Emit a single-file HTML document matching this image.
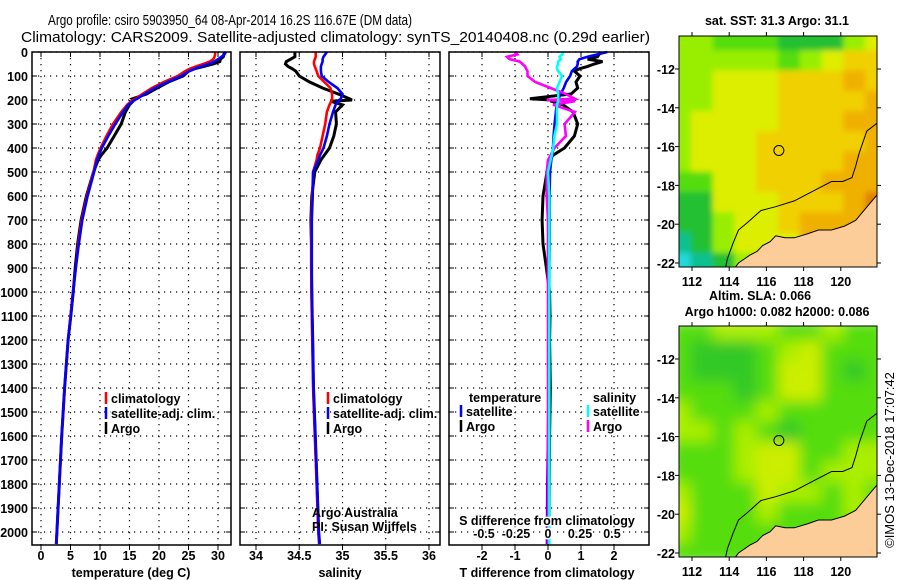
<!DOCTYPE html>
<html><head><meta charset="utf-8"><style>
html,body{margin:0;padding:0;background:#fff;}
svg{display:block;font-family:"Liberation Sans",sans-serif;}
.t{font-size:15px;}
.tk{font-weight:bold;font-size:12.5px;}
</style></head><body>
<svg id="fig" width="900" height="580" viewBox="0 0 900 580" xmlns="http://www.w3.org/2000/svg">
<text class="t" x="48" y="25" textLength="364" lengthAdjust="spacingAndGlyphs">Argo profile: csiro 5903950_64 08-Apr-2014 16.2S 116.67E (DM data)</text>
<text class="t" x="21" y="42" textLength="629" lengthAdjust="spacingAndGlyphs">Climatology: CARS2009. Satellite-adjusted climatology: synTS_20140408.nc (0.29d earlier)</text>
<g id="p1"></g>
<g id="p2"></g>
<g id="p3"></g>
<g id="m1"></g>
<g id="m2"></g>
<text class="tk" x="777" y="25" text-anchor="middle">sat. SST: 31.3 Argo: 31.1</text>
<text class="tk" x="760" y="300" text-anchor="middle">Altim. SLA: 0.066</text>
<text class="tk" x="777" y="316" text-anchor="middle">Argo h1000: 0.082 h2000: 0.086</text>
<text font-size="13" x="0" y="0" text-anchor="middle" transform="translate(894,460) rotate(-90)">©IMOS 13-Dec-2018 17:07:42</text>
</svg>
<script>
const depths=[0,10,20,30,40,50,60,70,80,100,125,150,175,195,200,205,220,250,300,350,400,430,450,500,600,700,800,900,1000,1100,1200,1400,1600,1800,2000,2050];
const tClim=[29.5,29.5,29.4,29.2,28.6,27.5,26.3,25.2,24.4,23.2,20.8,18.8,17.2,16.0,15.6,15.3,14.6,13.6,12.2,11.1,10.1,9.6,9.3,8.9,7.8,6.9,6.3,5.9,5.4,5.0,4.6,4.0,3.5,3.1,2.7,2.6];
const tSat=[31.3,31.1,30.6,30.0,29.4,28.4,27.2,26.0,25.1,23.8,21.4,19.3,17.6,16.3,15.9,15.6,14.8,13.9,12.6,11.4,10.3,9.8,9.5,9.0,7.9,7.0,6.4,5.9,5.45,5.05,4.6,4.0,3.5,3.1,2.7,2.6];
const tArgo=[31.1,31.0,30.9,30.4,30.3,29.2,27.6,26.0,25.0,24.1,21.6,19.7,17.9,15.5,15.8,15.6,15.0,14.3,13.6,12.4,11.2,10.2,9.7,8.9,7.7,6.8,6.2,5.8,5.45,5.05,4.6,4.0,3.5,3.1,2.7,2.6];
const sClim=[34.69,34.69,34.69,34.68,34.67,34.67,34.68,34.69,34.70,34.72,34.79,34.86,34.88,34.88,34.88,34.87,34.85,34.82,34.80,34.77,34.74,34.71,34.70,34.66,34.65,34.64,34.64,34.64,34.64,34.645,34.65,34.66,34.68,34.70,34.72,34.73];
const sSat=[34.82,34.80,34.78,34.77,34.77,34.76,34.75,34.75,34.75,34.76,34.84,34.94,35.0,34.98,34.96,34.95,34.92,34.89,34.85,34.82,34.78,34.74,34.72,34.66,34.655,34.645,34.645,34.645,34.645,34.65,34.655,34.665,34.685,34.705,34.725,34.735];
const sArgo=[34.45,34.45,34.45,34.40,34.35,34.34,34.37,34.42,34.46,34.50,34.62,34.77,34.95,35.08,35.11,34.86,35.0,34.92,34.93,34.9,34.85,34.79,34.75,34.68,34.645,34.635,34.64,34.64,34.645,34.65,34.655,34.665,34.685,34.705,34.725,34.735];
const dTSat=[1.8,1.5,1.2,0.95,0.9,0.9,0.88,0.8,0.72,0.67,0.55,0.48,0.38,0.32,0.3,0.28,0.26,0.24,0.2,0.17,0.15,0.13,0.1,0.06,0.05,0.05,0.05,0.04,0.04,0.03,0.03,0.02,0.0,-0.02,-0.03,-0.03];
const dTArgo=[1.6,1.55,1.5,1.2,1.65,1.4,1.2,0.95,0.8,0.97,0.85,0.9,0.7,-0.55,0.1,0.1,0.45,0.76,0.9,0.8,0.5,0.15,0.05,-0.03,-0.15,-0.18,-0.15,-0.05,0.05,0.06,0.05,0.07,0.05,0.04,0.03,0.03];
const dSSat=[0.12,0.11,0.09,0.1,0.08,0.08,0.07,0.07,0.08,0.11,0.09,0.07,0.08,0.08,0.08,0.08,0.07,0.07,0.07,0.05,0.04,0.03,0.02,0.0,0.01,0.01,0.01,0.01,0.01,0.01,0.01,0.01,0.01,0.01,0.01,0.01];
const dSArgo=[-0.26,-0.24,-0.32,-0.3,-0.22,-0.2,-0.18,-0.17,-0.16,-0.16,-0.1,0.02,0.14,0.21,-0.01,0.21,0.04,0.21,0.13,0.14,0.05,0.02,0.0,-0.01,-0.01,0,0,0,0,0,0,0,0,0,0,0];
const depthTicks=[0,100,200,300,400,500,600,700,800,900,1000,1100,1200,1300,1400,1500,1600,1700,1800,1900,2000];
const tTicks=[0,5,10,15,20,25,30];
const sTicks=[34,34.5,35,35.5,36];
const sTickLabels=["34","34.5","35","35.5","36"];
const dTTicks=[-2,-1,0,1,2];
const dSTicks=[-0.5,-0.25,0,0.25,0.5];
const dSTickLabels=["-0.5","-0.25","0","0.25","0.5"];
const lonTicks=[112,114,116,118,120];
const latTicks=[-12,-14,-16,-18,-20,-22];
const floatLon=116.67, floatLat=-16.2;
const coastLon=[121.94,121.5,120.8,120.2,119.5,118.8,118.2,117.5,117.0,116.5,116.2,115.8,115.5,115.1,114.8,114.5,114.3];
const coastLat=[-18.5,-19.0,-19.8,-20.1,-20.3,-20.3,-20.5,-20.7,-20.7,-20.6,-20.9,-21.1,-21.4,-21.6,-21.8,-22.0,-22.25];
const isoLon=[121.94,121.4,121.0,120.8,120.6,120.1,119.5,118.5,117.5,116.5,115.7,115.0,114.5,114.2,113.9,113.8];
const isoLat=[-14.8,-15.2,-16.3,-17.0,-17.6,-17.8,-17.8,-18.3,-18.8,-19.1,-19.3,-19.9,-20.3,-21.0,-21.8,-22.25];
const sstGrid=["llgggGGGly","lllllglyoo","llyyyoooOo","llyyyooooO","lyyyyoooOO","lyyyoooooO","lyyyooooOO","ggyyoooOOO","GGyyyoooOR","GGlyyoOOOR","cGlyyyOOOO","CcGlyyyOOO"];
const slaGrid=["gglllgglgg","gGGGglyggg","gGGGgyygGg","gggGgyyggg","lggglggggg","llglgGgggg","ggglyyggll","ggglyyglll","lgggyllglg","yggglgggll","lggggggggl","ggggglgggg"];
const NS="http://www.w3.org/2000/svg";
function mk(tag,attrs,parent){const e=document.createElementNS(NS,tag);for(const k in attrs)e.setAttribute(k,attrs[k]);parent.appendChild(e);return e;}
const yD=d=>52+d*0.24;
const Y0=52,Y1=545;
function panel(g,x0,x1,xs,ticks,labels,showY){
  mk('rect',{x:x0,y:Y0,width:x1-x0,height:Y1-Y0,fill:'#fff',stroke:'none'},g);
  depthTicks.forEach(d=>{
    const l=mk('line',{x1:x0,x2:x1,y1:yD(d),y2:yD(d),stroke:'#000','stroke-width':1.2,'stroke-dasharray':'1.2,4.8'},g);
    
    
    mk('line',{x1:x0,x2:x0+5,y1:yD(d),y2:yD(d),stroke:'#000'},g);
    mk('line',{x1:x1-5,x2:x1,y1:yD(d),y2:yD(d),stroke:'#000'},g);
    if(showY){const t=mk('text',{x:x0-4,y:yD(d)+5,'text-anchor':'end',class:'tk'},g);t.textContent=d;
      
      }
  });
  ticks.forEach((v,i)=>{
    const l=mk('line',{x1:xs(v),x2:xs(v),y1:Y0,y2:Y1,stroke:'#000','stroke-width':1.2,'stroke-dasharray':'1.2,4.8'},g);
    
    
    mk('line',{x1:xs(v),x2:xs(v),y1:Y1,y2:Y1+5,stroke:'#000'},g);
    mk('line',{x1:xs(v),x2:xs(v),y1:Y0,y2:Y0+5,stroke:'#000'},g);
    if(labels){const t=mk('text',{x:xs(v),y:560,'text-anchor':'middle',class:'tk'},g);t.textContent=labels[i];
      
      }
  });
}
function frame(g,x0,x1){const r=mk('rect',{x:x0,y:Y0,width:x1-x0,height:Y1-Y0,fill:'none',stroke:'#000','stroke-width':1.5},g);
  
  }
function line(g,vals,xs,color,name,w){
  const pts=vals.map((v,i)=>xs(v).toFixed(1)+','+yD(depths[i]).toFixed(1)).join(' ');
  const p=mk('polyline',{points:pts,fill:'none',stroke:color,'stroke-width':w||2.6,'stroke-linejoin':'miter'},g);
  
  
}
function txt(g,x,y,s,cls,anchor,name){const t=mk('text',{x:x,y:y,class:cls||'tk','text-anchor':anchor||'start'},g);t.textContent=s;
  
  return t;}
function legend(g,x,y,items){items.forEach((it,i)=>{
  const l=mk('line',{x1:x,x2:x,y1:y+i*15-11,y2:y+i*15+1,stroke:it[1],'stroke-width':2.5},g);
  
  
  const t=txt(g,x+5,y+i*15,it[0],'tk','start','legend-entry');
  t.setAttribute('style','paint-order:stroke;stroke:#fff;stroke-width:3px');
});}
const p1=document.getElementById('p1');
const xT=v=>41+v*5.9;
panel(p1,32,231,xT,tTicks,tTicks.map(String),true);
line(p1,tArgo,xT,'#000','argo-temperature-line',3);
line(p1,tClim,xT,'#f00','climatology-temperature-line');
line(p1,tSat,xT,'#00f','satellite-temperature-line');
frame(p1,32,231);
legend(p1,106,403,[['climatology','#f00'],['satellite-adj. clim.','#00f'],['Argo','#000']]);
txt(p1,131,577,'temperature (deg C)','tk','middle','x-axis-title');
const p2=document.getElementById('p2');
const xS=v=>256+(v-34)*86.5;
panel(p2,240,440,xS,sTicks,sTickLabels,false);
line(p2,sArgo,xS,'#000','argo-salinity-line',3);
line(p2,sClim,xS,'#f00','climatology-salinity-line');
line(p2,sSat,xS,'#00f','satellite-salinity-line');
frame(p2,240,440);
legend(p2,328,403,[['climatology','#f00'],['satellite-adj. clim.','#00f'],['Argo','#000']]);
let c1=txt(p2,312,517,'Argo Australia','','start','credit-argo-australia');c1.setAttribute('font-size','12');
let c2=txt(p2,312,531,'PI: Susan Wijffels','','start','credit-pi');c2.setAttribute('font-size','12');
txt(p2,340,577,'salinity','tk','middle','x-axis-title');
const p3=document.getElementById('p3');
const xDT=v=>548+v*33;
const xDS=v=>548+v*128;
panel(p3,449,649,xDT,dTTicks,dTTicks.map(String),false);
line(p3,dTArgo,xDT,'#000','argo-temperature-diff-line',3);
line(p3,dTSat,xDT,'#00f','satellite-temperature-diff-line');
line(p3,dSArgo,xDS,'#f0f','argo-salinity-diff-line');
line(p3,dSSat,xDS,'#0ff','satellite-salinity-diff-line');
frame(p3,449,649);
let lt=txt(p3,469,402,'temperature','tk','start','legend-title-temperature');lt.setAttribute('style','paint-order:stroke;stroke:#fff;stroke-width:3px');
let ls=txt(p3,593,402,'salinity','tk','start','legend-title-salinity');ls.setAttribute('style','paint-order:stroke;stroke:#fff;stroke-width:3px');
legend(p3,461,416,[['satellite','#00f'],['Argo','#000']]);
legend(p3,588,416,[['satellite','#0ff'],['Argo','#f0f']]);
let st=txt(p3,547,525,'S difference from climatology','tk','middle','s-axis-title');st.setAttribute('style','paint-order:stroke;stroke:#fff;stroke-width:3px');
dSTicks.forEach((v,i)=>{const t=txt(p3,xDS(v),538,dSTickLabels[i],'tk','middle','s-tick-label');t.setAttribute('style','paint-order:stroke;stroke:#fff;stroke-width:3px');});
txt(p3,547,577,'T difference from climatology','tk','middle','x-axis-title');
const pal={l:'#99ee00',g:'#55dd10',G:'#22c030',y:'#ddee00',o:'#f0d000',O:'#f0b000',R:'#e08000',c:'#10c090',C:'#20d8d8'};
const palS={l:'#aaee00',g:'#55dd10',G:'#33c828',y:'#ccee00'};
function map(id,top,grid,pl,blur){
  const g=document.getElementById(id);
  const X0=679,X1=877,Yt=top,Yb=top+231;
  const mx=lon=>692+(lon-112)*18.6, my=lat=>Yt+33+(-12-lat)*19.4;
  const defs=mk('defs',{},g);
  const cp=mk('clipPath',{id:id+'c'},defs);mk('rect',{x:X0,y:Yt,width:X1-X0,height:Yb-Yt},cp);
  const f=mk('filter',{id:id+'f',x:'-10%',y:'-10%',width:'120%',height:'120%'},defs);mk('feGaussianBlur',{stdDeviation:blur},f);
  const inner=mk('g',{'clip-path':'url(#'+id+'c)'},g);
  const cg=mk('g',{filter:'url(#'+id+'f)'},inner);
  grid.forEach((row,r)=>{[...row].forEach((k,c)=>{
    const cell=mk('rect',{x:X0-10+c*((X1-X0+20)/10),y:Yt-6+r*((Yb-Yt+12)/12),width:(X1-X0+20)/10+1,height:(Yb-Yt+12)/12+1,fill:pl[k]},cg);
    
    
  });});
  const land=coastLon.map((v,i)=>mx(v).toFixed(1)+','+my(coastLat[i]).toFixed(1)).join(' ')+' '+X1+','+Yb+' '+X1+','+my(-18.5);
  const lp=mk('polygon',{points:land,fill:'#fccc99',stroke:'#000','stroke-width':1},inner);
  
  
  const iso=mk('polyline',{points:isoLon.map((v,i)=>mx(v).toFixed(1)+','+my(isoLat[i]).toFixed(1)).join(' '),fill:'none',stroke:'#000','stroke-width':1},inner);
  
  
  const fl=mk('circle',{cx:mx(floatLon),cy:my(floatLat),r:5,fill:'none',stroke:'#000','stroke-width':1},g);
  
  
  const fr=mk('rect',{x:X0,y:Yt,width:X1-X0,height:Yb-Yt,fill:'none',stroke:'#000','stroke-width':1},g);
  
  
  lonTicks.forEach(v=>{mk('line',{x1:mx(v),x2:mx(v),y1:Yt-4,y2:Yt,stroke:'#000'},g);mk('line',{x1:mx(v),x2:mx(v),y1:Yb,y2:Yb+4,stroke:'#000'},g);
    const t=txt(g,mx(v),Yb+19,String(v),'tk','middle','lon-tick-label');t.setAttribute('font-size','14');});
  latTicks.forEach(v=>{mk('line',{x1:X1,x2:X1+4,y1:my(v),y2:my(v),stroke:'#000'},g);mk('line',{x1:X0-4,x2:X0,y1:my(v),y2:my(v),stroke:'#000'},g);
    const t=txt(g,X0-4,my(v)+5,String(v),'tk','end','lat-tick-label');t.setAttribute('font-size','14');});
}
map('m1',36,sstGrid,pal,3);
map('m2',326,slaGrid,palS,7);
</script>
</body></html>
